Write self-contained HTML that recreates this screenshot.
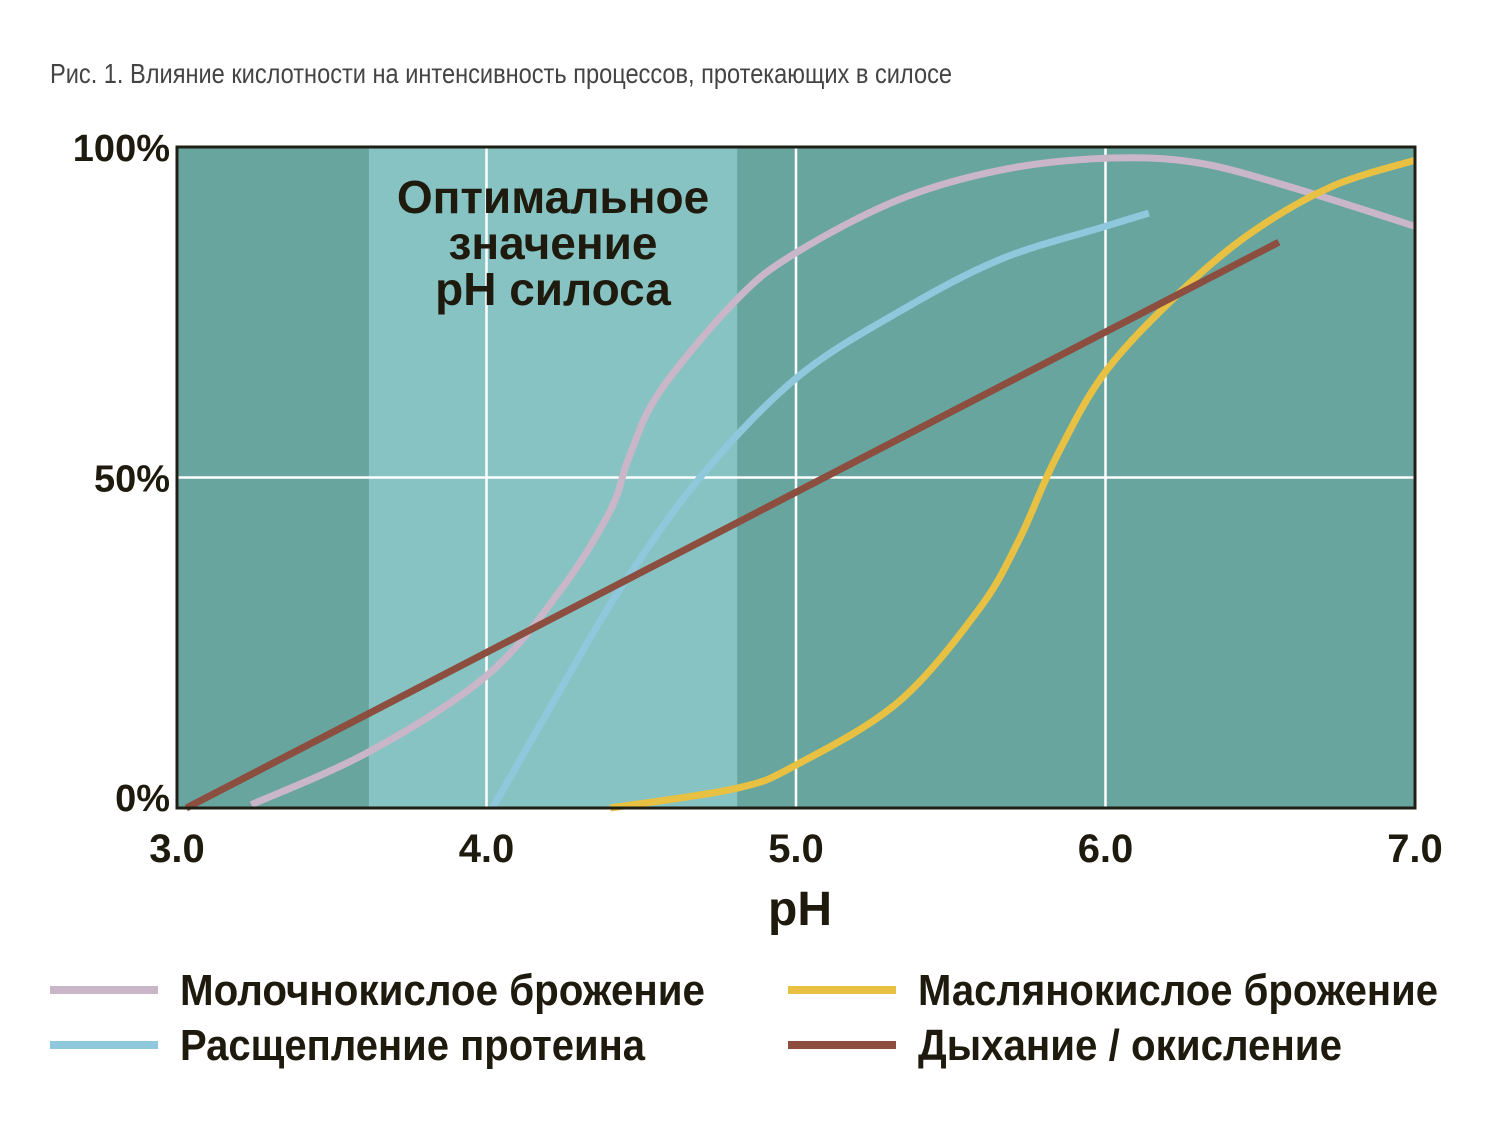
<!DOCTYPE html>
<html><head><meta charset="utf-8"><style>
body{margin:0;background:#fff;width:1509px;height:1121px;overflow:hidden}
text{font-family:"Liberation Sans Narrow","Liberation Sans",sans-serif}
</style></head><body>
<svg id="c" width="1509" height="1121">
<text x="50" y="83" font-size="28" fill="#444" textLength="902" lengthAdjust="spacingAndGlyphs">Рис. 1. Влияние кислотности на интенсивность процессов, протекающих в силосе</text>
</svg>
<script>
const xTicks=[3.0,4.0,5.0,6.0,7.0];
const yTicks=[0,50,100];
const yTickLabels=["0%","50%","100%"];
const optimalBand=[3.62,4.81];
const lacticX=[3.24,3.62,4.0,4.24,4.4,4.46,4.56,4.81,5.0,5.33,5.66,6.0,6.3,6.63,7.0];
const lacticY=[0.5,8.5,20,33,45,53,63,77,84,92,96.5,98.3,97.6,93.5,88];
const proteinX=[4.02,4.24,4.43,4.69,5.0,5.33,5.66,6.0,6.14];
const proteinY=[0,18,33,50,65,75,83,88,90];
const butyricX=[4.4,4.81,5.0,5.33,5.59,5.72,5.84,6.0,6.24,6.47,6.73,7.0];
const butyricY=[0,3,6.5,16,30,40.5,53,66,78,87,94,98];
const respX=[3.03,6.56];
const respY=[0,85.6];
const NS="http://www.w3.org/2000/svg",svg=document.getElementById('c');
const L=177,R=1415,T=147,B=808;
const sx=v=>L+(v-3)/4*(R-L), sy=v=>B-v/100*(B-T);
function el(t,a,p){const e=document.createElementNS(NS,t);for(const k in a)e.setAttribute(k,a[k]);(p||svg).appendChild(e);return e;}
let r=el('rect',{x:L,y:T,width:R-L,height:B-T,fill:'#68a59f'});

r=el('rect',{x:sx(optimalBand[0]),y:T,width:sx(optimalBand[1])-sx(optimalBand[0]),height:B-T,fill:'#87c3c2'});

xTicks.slice(1,4).forEach(v=>{const g=el('line',{x1:sx(v),x2:sx(v),y1:T,y2:B,stroke:'#fff','stroke-width':2.5});
});
let g=el('line',{x1:L,x2:R,y1:sy(50),y2:sy(50),stroke:'#fff','stroke-width':2.5});

function path(xs,ys){const p=xs.map((x,i)=>[sx(x),sy(ys[i])]);let d='M'+p[0];
for(let i=0;i<p.length-1;i++){const p0=p[i-1]||p[i],p1=p[i],p2=p[i+1],p3=p[i+2]||p2;
d+=`C${p1[0]+(p2[0]-p0[0])/6},${p1[1]+(p2[1]-p0[1])/6} ${p2[0]-(p3[0]-p1[0])/6},${p2[1]-(p3[1]-p1[1])/6} ${p2[0]},${p2[1]}`;}return d;}
const series=[[lacticX,lacticY,'#c9b6c8','lactic-line'],[proteinX,proteinY,'#8fc8dc','protein-line'],[butyricX,butyricY,'#e8c143','butyric-line'],[respX,respY,'#8b4e3f','respiration-line']];
series.forEach(s=>{const p=el('path',{d:path(s[0],s[1]),fill:'none',stroke:s[2],'stroke-width':7});
});
r=el('rect',{x:L,y:T,width:R-L,height:B-T,fill:'none',stroke:'#1e1e14','stroke-width':3});

const bt=el('text',{'font-size':46,'font-weight':'bold',fill:'#1e1a0e','text-anchor':'middle'});

["Оптимальное","значение","pH силоса"].forEach((s,i)=>{const t=el('tspan',{x:553,y:213+i*46},bt);t.textContent=s;});
xTicks.forEach(v=>{const t=el('text',{x:sx(v),y:862,'font-size':40,'font-weight':'bold',fill:'#1e1a0e','text-anchor':'middle'});
t.textContent=v.toFixed(1);});
yTicks.forEach((v,i)=>{const t=el('text',{x:170,y:sy(v)+(v==0?3:14),'font-size':38,'font-weight':'bold',fill:'#1e1a0e','text-anchor':'end'});
t.textContent=yTickLabels[i];});
let t=el('text',{x:800,y:925,'font-size':48,'font-weight':'bold',fill:'#1e1a0e','text-anchor':'middle'});
t.textContent='pH';
const leg=[[50,990,'#c9b6c8','Молочнокислое брожение',525],[50,1045,'#8fc8dc','Расщепление протеина',465],[788,990,'#e8c143','Маслянокислое брожение',520],[788,1045,'#8b4e3f','Дыхание / окисление',424]];
leg.forEach(l=>{const ln=el('line',{x1:l[0],x2:l[0]+108,y1:l[1],y2:l[1],stroke:l[2],'stroke-width':8});

const tx=el('text',{x:l[0]+130,y:l[1]+15,'font-size':44,'font-weight':'bold',fill:'#1e1a0e',textLength:l[4],lengthAdjust:'spacingAndGlyphs'});
tx.textContent=l[3];});
</script>
</body></html>
